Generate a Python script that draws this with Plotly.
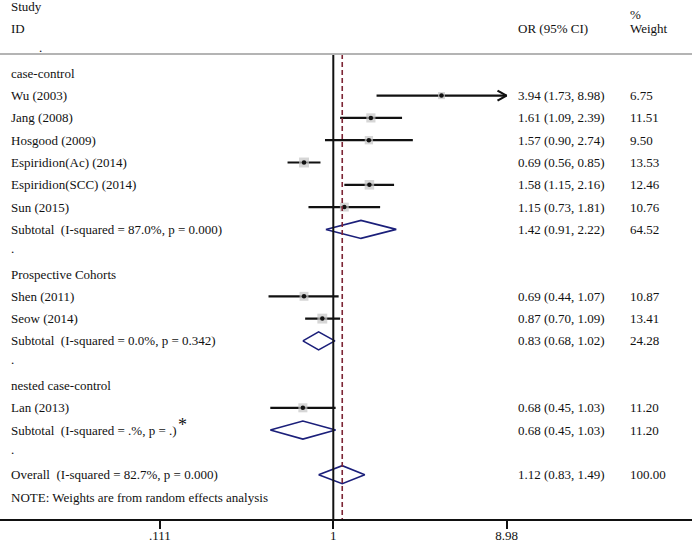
import plotly.graph_objects as go
import math

# ---------------- data ----------------
row_labels = [
    ".", "case-control",
    "Wu (2003)", "Jang (2008)", "Hosgood (2009)", "Espiridion(Ac) (2014)",
    "Espiridion(SCC) (2014)", "Sun (2015)",
    "Subtotal\u00a0 (I-squared = 87.0%, p = 0.000)",
    ".", "Prospective Cohorts",
    "Shen (2011)", "Seow (2014)",
    "Subtotal\u00a0 (I-squared = 0.0%, p = 0.342)",
    ".", "nested case-control",
    "Lan (2013)",
    "Subtotal\u00a0 (I-squared = .%, p = .)",
    ".",
    "Overall\u00a0 (I-squared = 82.7%, p = 0.000)",
    "NOTE: Weights are from random effects analysis",
]
row_kind = [
    "dot", "head",
    "study", "study", "study", "study", "study", "study",
    "sub",
    "dot", "head",
    "study", "study",
    "sub",
    "dot", "head",
    "study",
    "sub",
    "dot",
    "sub",
    "note",
]
or_est = [None, None, 3.94, 1.61, 1.57, 0.69, 1.58, 1.15, 1.42, None, None,
          0.69, 0.87, 0.83, None, None, 0.68, 0.68, None, 1.12, None]
ci_low = [None, None, 1.73, 1.09, 0.90, 0.56, 1.15, 0.73, 0.91, None, None,
          0.44, 0.70, 0.68, None, None, 0.45, 0.45, None, 0.83, None]
ci_high = [None, None, 8.98, 2.39, 2.74, 0.85, 2.16, 1.81, 2.22, None, None,
           1.07, 1.09, 1.02, None, None, 1.03, 1.03, None, 1.49, None]
weight = [None, None, 6.75, 11.51, 9.50, 13.53, 12.46, 10.76, 64.52, None, None,
          10.87, 13.41, 24.28, None, None, 11.20, 11.20, None, 100.00, None]

tick_vals = [0.111, 1, 8.98]
tick_text = [".111", "1", "8.98"]
overall_or = 1.12
axis_max = 8.98

# ---------------- layout constants ----------------
W, H = 692, 544
FONT = "Liberation Serif"
FS = 13
ROW0 = 51.0      # pixel y of row 0
ROWH = 22.3      # pixel height per row
PLOT_BOTTOM = 519
PX_PER_LOG10 = 181.7
X_ONE = 333.3

def k_of(py):
    return (py - ROW0) / ROWH

x_range = [-X_ONE / PX_PER_LOG10, (W - X_ONE) / PX_PER_LOG10]
y_range = [k_of(PLOT_BOTTOM), k_of(0)]

BLACK = "#111111"
NAVY = "#1B1F7A"
MAROON = "#7D2534"
GRAY_BOX = "#c4c4c4"

fig = go.Figure()

# CI lines for individual studies
cx, cy = [], []
arrows = []
for k, kind in enumerate(row_kind):
    if kind == "study":
        hi = ci_high[k]
        cx += [ci_low[k], hi, None]
        cy += [k, k, None]
        if hi >= axis_max:
            arrows.append(k)
# open arrowheads for truncated CIs
head_f = 10 ** (9 / PX_PER_LOG10)
head_h = 5 / ROWH
for k in arrows:
    tip = ci_high[k]
    cx += [tip / head_f, tip, tip / head_f, None]
    cy += [k - head_h, k, k + head_h, None]
fig.add_trace(go.Scatter(x=cx, y=cy, mode="lines",
                         line=dict(color=BLACK, width=2.2),
                         hoverinfo="skip", showlegend=False))

# boxes proportional to weight
bx = [or_est[k] for k, t in enumerate(row_kind) if t == "study"]
by = [k for k, t in enumerate(row_kind) if t == "study"]
bs = [2.7 * math.sqrt(weight[k]) for k, t in enumerate(row_kind) if t == "study"]
fig.add_trace(go.Scatter(x=bx, y=by, mode="markers",
                         marker=dict(symbol="square", size=bs, color=GRAY_BOX,
                                     line=dict(width=0)),
                         hoverinfo="skip", showlegend=False))
fig.add_trace(go.Scatter(x=bx, y=by, mode="markers",
                         marker=dict(symbol="circle", size=4.5, color=BLACK),
                         hoverinfo="skip", showlegend=False))

# diamonds for subtotals / overall
HALF = 9 / ROWH
for k, kind in enumerate(row_kind):
    if kind == "sub":
        e, lo, hi = or_est[k], ci_low[k], ci_high[k]
        fig.add_trace(go.Scatter(
            x=[lo, e, hi, e, lo], y=[k, k - HALF, k, k + HALF, k],
            mode="lines", line=dict(color=NAVY, width=1.6),
            hoverinfo="skip", showlegend=False))

# reference lines
top_k = k_of(54)
fig.add_shape(type="line", xref="x", yref="y", x0=1, x1=1, y0=top_k, y1=y_range[0],
              line=dict(color=BLACK, width=2))
fig.add_shape(type="line", xref="x", yref="y", x0=overall_or, x1=overall_or,
              y0=top_k, y1=y_range[0],
              line=dict(color=MAROON, width=1.6, dash="5px,3px"))
# header separator
fig.add_shape(type="line", xref="paper", yref="y", x0=0, x1=1, y0=top_k, y1=top_k,
              line=dict(color="#b4b4b4", width=2))

# text columns
def txt(x_px, k, s, size=FS):
    fig.add_annotation(x=x_px / W, y=k, xref="paper", yref="y", text=s,
                       showarrow=False, xanchor="left", yanchor="middle",
                       font=dict(family=FONT, size=size, color=BLACK))

txt(9, k_of(6), "Study")
txt(9, k_of(28), "ID")
txt(516, k_of(28), "OR (95% CI)")
txt(628, k_of(14), "%")
txt(628, k_of(28), "Weight")

for k, (lab, kind) in enumerate(zip(row_labels, row_kind)):
    if kind == "dot":
        txt(37 if k == 0 else 9, k - 0.15, lab)
    else:
        txt(9, k, lab)
    if or_est[k] is not None:
        txt(516, k, f"{or_est[k]:.2f} ({ci_low[k]:.2f}, {ci_high[k]:.2f})")
        txt(628, k, f"{weight[k]:.2f}")

# asterisk after the single-study subtotal
txt(176, 17 - 0.25, "*", size=18)

fig.update_xaxes(type="log", range=x_range, domain=[0, 1],
                 tickvals=tick_vals, ticktext=tick_text,
                 ticks="outside", ticklen=8, tickwidth=2, tickcolor=BLACK,
                 showline=True, linewidth=2, linecolor=BLACK,
                 showgrid=False, zeroline=False, automargin=False,
                 ticklabelstandoff=-5,
                 tickfont=dict(family=FONT, size=FS, color=BLACK))
fig.update_yaxes(range=y_range, visible=False, showgrid=False, zeroline=False)

fig.update_layout(width=W, height=H,
                  margin=dict(l=0, r=0, t=0, b=H - PLOT_BOTTOM, pad=0),
                  paper_bgcolor="white", plot_bgcolor="white",
                  showlegend=False, font=dict(family=FONT, size=FS))

fig.write_html("out.html",
               config={"displayModeBar": False},
               post_script="document.body.style.margin='0';"
                           "document.body.style.padding='0';")
